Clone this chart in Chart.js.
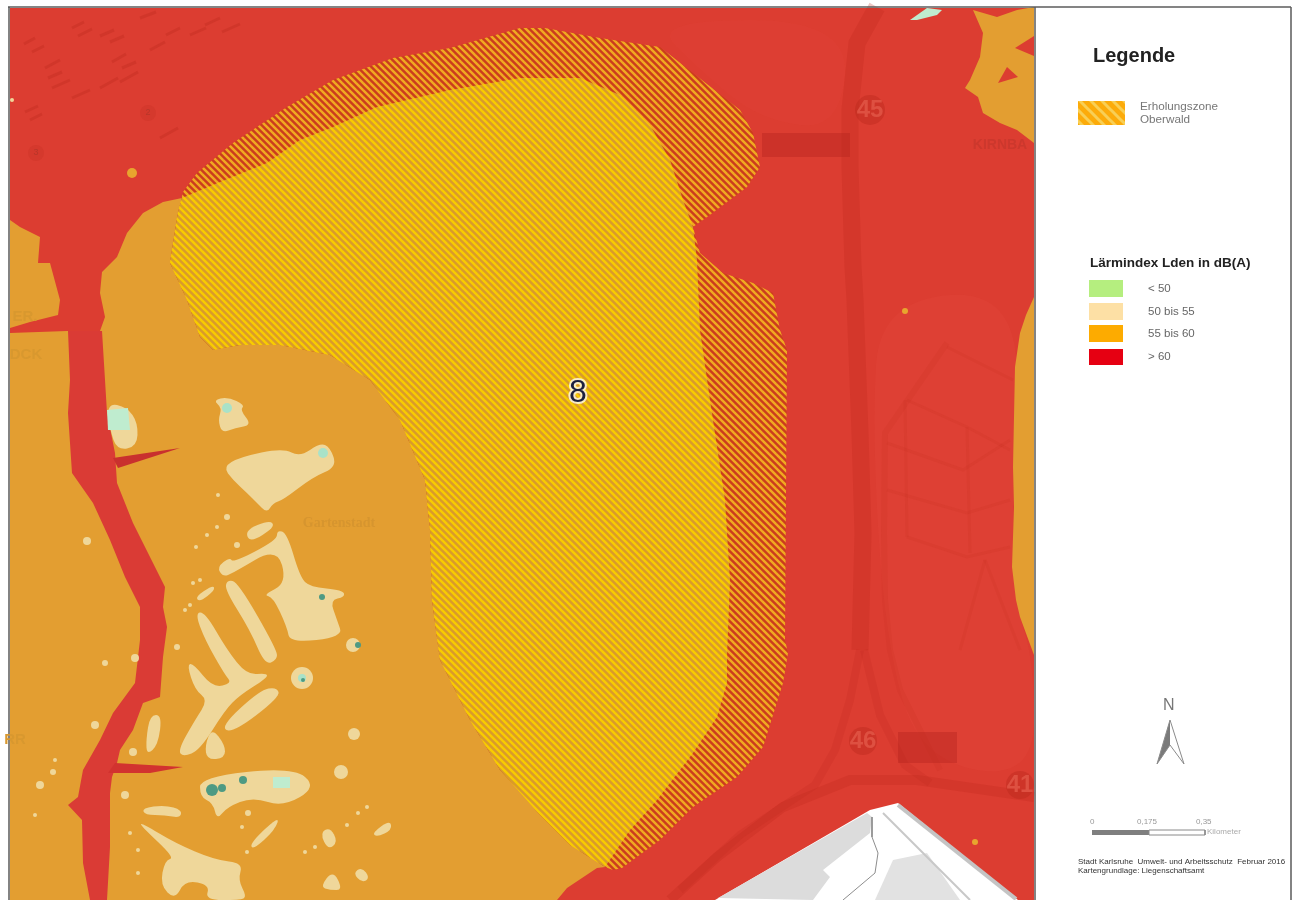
<!DOCTYPE html>
<html>
<head>
<meta charset="utf-8">
<title>Lärmindex Lden Erholungszone Oberwald</title>
<script src="https://cdn.jsdelivr.net/npm/chart.js@4"></script>
<style>
  html, body { margin: 0; padding: 0; background: #fff; overflow: hidden; }
  canvas { display: block; filter: blur(0.6px); }
</style>
</head>
<body>
<canvas id="map" width="1294" height="900"></canvas>
<script>
// outlines, as [x, y] in picture units
const mapArea = [[10,8],[1034,8],[1034,900],[10,900]];
const lighterEast = [[880,300],[1020,290],[1013,470],[1014,600],[1034,660],[1034,780],[920,760],[885,640],[872,430]];
const lighterNorth = [[650,20],[850,20],[840,130],[760,120],[700,70]];
const orangeNW = [[10,220],[20,227],[40,237],[38,263],[50,263],[60,300],[58,315],[30,322],[10,328]];
const orangeWest = [[10,333],[67,331],[100,331],[105,317],[100,293],[102,272],[117,257],[127,233],[143,213],[163,202],[182,198],[220,182],[267,163],[300,140],[333,127],[377,107],[450,90],[520,78],[580,78],[620,95],[650,125],[670,160],[683,200],[693,227],[697,260],[700,330],[710,400],[725,500],[730,580],[727,657],[727,683],[717,717],[693,753],[657,800],[630,830],[605,867],[597,868],[567,888],[557,900],[10,900]];
const orangeEast = [[1034,297],[1026,315],[1020,333],[1015,367],[1013,467],[1014,507],[1012,567],[1016,600],[1020,617],[1034,655]];
const orangeNE = [[1034,7],[1017,10],[997,17],[973,10],[983,33],[980,57],[970,80],[965,88],[978,97],[983,113],[1000,123],[1017,130],[1034,143]];
const redHoleNE1 = [[1007,67],[1018,77],[998,83]];
const redHoleNE2 = [[1034,36],[1015,48],[1034,56]];
const river = [[68,331],[70,380],[68,413],[72,473],[93,503],[110,540],[125,577],[140,607],[140,640],[135,683],[113,713],[100,740],[83,770],[78,797],[68,805],[82,820],[83,863],[90,900],[107,900],[110,847],[110,793],[112,777],[117,763],[120,750],[133,730],[143,703],[160,697],[163,657],[167,627],[163,607],[165,587],[150,557],[133,523],[117,483],[115,453],[107,413],[105,380],[102,331]];
const riverBranchA = [[113,458],[180,448],[118,468]];
const riverBranchB = [[115,763],[183,767],[150,773],[108,773]];
const hatchOutline = [[183,192],[197,173],[233,143],[287,107],[333,80],[393,58],[450,48],[520,28],[545,28],[600,38],[660,47],[693,73],[740,110],[753,133],[760,167],[747,187],[707,217],[693,227],[700,253],[723,273],[753,283],[773,293],[780,330],[787,350],[785,640],[788,653],[783,683],[763,747],[737,777],[693,807],[660,840],[622,868],[613,870],[605,867],[570,845],[540,815],[500,770],[470,720],[440,660],[432,600],[430,530],[425,480],[400,420],[370,380],[330,355],[280,345],[240,345],[213,350],[200,337],[187,300],[170,263],[177,217]];
const creamBlobs = [
  [[223,467],[240,457],[283,448],[300,457],[320,443],[330,447],[337,467],[313,477],[283,500],[273,503],[267,513],[257,503],[247,493],[233,480]],
  [[213,400],[228,397],[245,405],[240,410],[252,425],[235,428],[222,433],[218,420],[222,408]],
  [[107,403],[127,407],[138,423],[137,447],[117,450],[110,430]],
  [[217,567],[230,557],[233,563],[277,540],[277,530],[287,533],[300,577],[310,587],[343,590],[345,597],[330,600],[337,620],[343,637],[290,643],[287,627],[273,597],[263,595],[287,583],[277,547],[233,573],[223,577]],
  [[227,580],[238,582],[277,650],[277,660],[265,665],[250,630],[225,590]],
  [[195,613],[205,612],[227,650],[247,675],[267,673],[267,678],[240,695],[225,710],[200,750],[183,757],[178,750],[195,720],[208,700],[195,690],[187,665],[193,663],[213,688],[232,683],[225,675],[205,640]],
  [[220,727],[260,690],[277,687],[280,697],[233,733]],
  [[195,597],[213,585],[215,590],[200,602]],
  [[245,530],[270,520],[275,527],[250,543]],
  [[150,715],[162,715],[158,745],[147,755],[146,740]],
  [[205,745],[212,728],[225,745],[225,758],[207,760]],
  [[200,777],[293,767],[317,787],[283,807],[253,797],[227,807],[217,820],[213,803],[200,797]],
  [[250,843],[280,815],[275,830],[253,850]],
  [[320,833],[330,827],[338,842],[328,850]],
  [[372,833],[390,820],[392,830],[377,837]],
  [[320,887],[333,870],[343,890],[330,890]],
  [[353,873],[362,867],[370,878],[362,883]],
  [[142,823],[175,843],[215,860],[243,863],[238,880],[247,897],[240,900],[205,900],[210,885],[185,880],[175,900],[160,885],[165,860],[175,858],[140,825]],
  [[142,808],[165,805],[182,810],[180,818],[165,815],[145,815]]
];
const creamDots = [[354,734,6],[341,772,7],[302,678,11],[353,645,7],[87,541,4],[105,663,3],[135,658,4],[177,647,3],[95,725,4],[55,760,2],[53,772,3],[40,785,4],[125,795,4],[133,752,4],[248,813,3],[200,580,2],[193,583,2],[185,610,2],[190,605,2],[196,547,2],[207,535,2],[217,527,2],[227,517,3],[237,545,3],[218,495,2],[367,807,2],[358,813,2],[347,825,2],[305,852,2],[315,847,2],[247,852,2],[242,827,2],[138,850,2],[138,873,2],[200,873,2],[130,833,2],[35,815,2],[12,100,2]];
const paleGreenSpots = [[[107,410],[128,408],[130,430],[108,430]],[[273,777],[290,777],[290,788],[273,788]],[[910,20],[927,8],[942,10],[937,15],[917,20]]];
const paleGreenDots = [[227,408,5],[323,453,5],[302,678,4]];
const tealDots = [[322,597,3],[358,645,3],[243,780,4],[212,790,6],[222,788,4],[303,680,2]];
const orangeSpots = [[132,173,5],[905,311,3],[975,842,3]];
const urbanWhite = [[715,900],[870,810],[898,803],[1018,900]];
const urbanGreyA = [[718,898],[867,813],[872,817],[870,833],[823,870],[830,877],[813,900]];
const urbanGreyB = [[893,860],[927,853],[960,900],[875,900]];
const urbanEdge = [[898,805],[1016,899]];
const urbanRoadA = [[883,813],[970,900]];
const urbanRoadB = [[872,817],[872,837],[878,853],[875,873],[843,900]];
const motorway = [[877,7],[857,43],[850,110],[850,167],[853,267],[855,300],[860,433],[863,533],[860,650]];
const motorwayEast = [[1034,797],[917,780],[850,780],[783,807],[717,857],[670,900]];
const rampWest = [[860,650],[850,700],[835,750],[815,785],[740,835],[680,890]];
const rampMiddle = [[864,650],[880,715],[905,765],[930,783]];
const rampEast = [[947,343],[885,433],[884,533],[885,600],[890,650],[900,690],[940,770]];
const streets = [
  [[907,400],[967,427],[1010,450]],
  [[887,443],[963,470],[1010,440]],
  [[887,490],[967,513],[1010,500]],
  [[907,537],[967,557],[1010,547]],
  [[905,400],[907,537]],
  [[967,427],[970,553]],
  [[947,347],[1013,380]],
  [[985,560],[960,650]],
  [[985,560],[1020,650]]
];
const nwBlocks = [[[24,44],[35,38]],[[32,52],[44,46]],[[72,28],[84,22]],[[78,36],[92,29]],[[100,36],[114,30]],[[110,42],[124,36]],[[45,68],[60,60]],[[48,78],[62,72]],[[112,62],[126,54]],[[122,68],[136,62]],[[140,18],[156,12]],[[190,35],[206,28]],[[205,25],[220,18]],[[222,32],[240,24]],[[150,50],[165,42]],[[52,88],[70,80]],[[25,112],[38,106]],[[30,120],[42,114]],[[72,98],[90,90]],[[166,35],[180,28]],[[160,138],[178,128]],[[100,88],[118,78]],[[120,82],[138,72]]];
const signBoxes = [[[762,133],[850,133],[850,157],[762,157]],[[898,732],[957,732],[957,763],[898,763]]];
const exitCircles = [[870,110,15],[863,741,14],[1020,785,14]];
const smallCircles = [[36,153,8],[148,113,8]];
// legend
const legendHatchBox = [[1078,101],[1125,101],[1125,125],[1078,125]];
const noiseClasses = ["< 50", "50 bis 55", "55 bis 60", "> 60"];
const noiseColors = ["#b5ee7f", "#fde0a5", "#fdab00", "#e60012"];
const noiseBoxes = [
  [[1089,280],[1123,280],[1123,297],[1089,297]],
  [[1089,303],[1123,303],[1123,320],[1089,320]],
  [[1089,325],[1123,325],[1123,342],[1089,342]],
  [[1089,349],[1123,349],[1123,365],[1089,365]]
];
const noiseLabelX = [1148, 1148, 1148, 1148];
const noiseLabelY = [289, 312, 334, 357];
const arrowLeft = [[1170,720],[1157,764],[1170,745]];
const arrowOutline = [[1170,720],[1184,764],[1170,745]];
const scaleFilled = [[1092,830],[1149,830],[1149,835],[1092,835]];
const scaleEmpty = [[1149,830],[1205,830],[1205,835],[1149,835]];
const frameLines = [
  [[8,7],[1291,7]],
  [[9,7],[9,900]],
  [[1035,7],[1035,900]],
  [[1291,7],[1291,900]]
];

function stripes(size, width, back, front) {
  const tile = document.createElement("canvas");
  tile.width = size;
  tile.height = size;
  const c = tile.getContext("2d");
  c.fillStyle = back;
  c.fillRect(0, 0, size, size);
  c.strokeStyle = front;
  c.lineWidth = width;
  // run past the tile corners so the stripes join up without notches
  [-size, 0, size].forEach(function (d) {
    c.beginPath();
    c.moveTo(d - 3, -3);
    c.lineTo(d + size + 3, size + 3);
    c.stroke();
  });
  return c.createPattern(tile, "repeat");
}

const toPoints = (list) => list.map((p) => ({ x: p[0], y: p[1] }));
const toDots = (list) => list.map((p) => ({ x: p[0], y: p[1], r: p[2] }));

const layers = [];
function area(list, color, round) {
  layers.push({ type: "scatter", polygon: true, round: !!round, data: toPoints(list), backgroundColor: color, pointRadius: 0 });
}
function line(list, color, width) {
  layers.push({ type: "scatter", showLine: true, data: toPoints(list), borderColor: color, borderWidth: width, pointRadius: 0, fill: false });
}
function dots(list, color) {
  layers.push({ type: "bubble", data: toDots(list), backgroundColor: color, borderWidth: 0 });
}

const baseRed = "#dc3d31";
const orange = "#e39e31";
const cream = "#efd79a";
const roadRed = "rgba(190,40,28,0.26)";
const streetRed = "rgba(190,40,28,0.12)";

area(mapArea, baseRed);
area(lighterEast, "rgba(232,80,64,0.18)", true);
area(lighterNorth, "rgba(232,80,64,0.1)", true);
nwBlocks.forEach((b) => line(b, "rgba(185,40,28,0.3)", 3));
line(motorway, roadRed, 17);
line(motorwayEast, roadRed, 10);
line(rampWest, "rgba(190,40,28,0.2)", 8);
line(rampMiddle, "rgba(190,40,28,0.2)", 8);
line(rampEast, streetRed, 6);
streets.forEach((s) => line(s, streetRed, 3));
signBoxes.forEach((b) => area(b, "rgba(180,35,28,0.38)"));
dots(exitCircles, "rgba(185,40,28,0.4)");
dots(smallCircles, "rgba(185,40,28,0.18)");
area(orangeNW, orange);
area(orangeWest, orange);
area(orangeEast, orange);
area(orangeNE, orange);
area(redHoleNE1, baseRed);
area(redHoleNE2, baseRed);
area(river, "#da3b35");
area(riverBranchA, "#c9302e");
area(riverBranchB, "#d2322f");
creamBlobs.forEach((b) => area(b, cream, true));
dots(creamDots, cream);
paleGreenSpots.forEach((b) => area(b, "#bfeccf"));
dots(paleGreenDots, "#a9e2c8");
dots(tealDots, "#4e9a83");
dots(orangeSpots, "#e8a52e");
area(urbanWhite, "#ffffff");
area(urbanGreyA, "#dcdcdc");
area(urbanGreyB, "#e2e2e2");
line(urbanEdge, "#c4c4c4", 4);
line(urbanRoadA, "#c8c8c8", 2);
line(urbanRoadB, "#8d8d8d", 1);
area(hatchOutline, "hatch");
area(legendHatchBox, stripes(11, 3, "#fcab0a", "#f8cf55"));
noiseBoxes.forEach((b, i) => area(b, noiseColors[i]));
area(arrowLeft, "#7a7a7a");
line(arrowOutline, "#8a8a8a", 1);
line(arrowLeft, "#8a8a8a", 1);
area(scaleFilled, "#7f7f7f");
line(scaleEmpty.concat([scaleEmpty[0]]), "#8a8a8a", 1);
frameLines.forEach((f) => line(f, "#5b5b5b", 1.5));
// later layers go on top
layers.forEach((l, i) => { l.order = layers.length - i; });

// fills a dataset's points as a closed shape; the hatched zone is cut in two at the orange edge
function tracePoints(ctx, points, round) {
  ctx.beginPath();
  if (round) {
    const n = points.length;
    const mid = (a, b) => ({ x: (a.x + b.x) / 2, y: (a.y + b.y) / 2 });
    const start = mid(points[n - 1], points[0]);
    ctx.moveTo(start.x, start.y);
    points.forEach(function (p, i) {
      const m = mid(p, points[(i + 1) % n]);
      ctx.quadraticCurveTo(p.x, p.y, m.x, m.y);
    });
  } else {
    points.forEach((p, i) => (i ? ctx.lineTo(p.x, p.y) : ctx.moveTo(p.x, p.y)));
  }
  ctx.closePath();
}
const hatchOverOrange = stripes(7, 2.5, "#d99a2c", "#f8cc00");
const hatchOverRed = stripes(7, 2.5, "#cb3c1e", "#f0aa20");
const polygonPlugin = {
  id: "polygons",
  beforeDatasetDraw(chart, args) {
    const set = chart.data.datasets[args.index];
    if (!set.polygon) return;
    const ctx = chart.ctx;
    const points = args.meta.data;
    ctx.save();
    tracePoints(ctx, points, set.round);
    if (set.backgroundColor === "hatch") {
      ctx.clip();
      ctx.fillStyle = hatchOverRed;
      ctx.fillRect(0, 0, chart.width, chart.height);
      const west = chart.getDatasetMeta(layers.findIndex((l) => l.data.length === orangeWest.length && l.polygon)).data;
      tracePoints(ctx, west);
      ctx.fillStyle = hatchOverOrange;
      ctx.fill();
    } else {
      ctx.fillStyle = set.backgroundColor;
      ctx.fill();
    }
    ctx.restore();
    return false;
  }
};

const labelTexts = ["8", "45", "46", "41", "Gartenstadt", "KIRNBA", "ER.", "DCK", "RR", "3", "2"];
const labelX = [578, 870, 863, 1020, 339, 1000, 25, 26, 15, 36, 148];
const labelY = [393, 110, 741, 785, 523, 145, 317, 355, 740, 153, 113];
const labelFonts = ["32px 'Liberation Sans'", "bold 24px 'Liberation Sans'", "bold 24px 'Liberation Sans'", "bold 24px 'Liberation Sans'", "bold 14px 'Liberation Serif'", "bold 14px 'Liberation Sans'", "bold 15px 'Liberation Sans'", "bold 15px 'Liberation Sans'", "bold 15px 'Liberation Sans'", "9px 'Liberation Sans'", "9px 'Liberation Sans'"];
const labelColors = ["#1b1f3f", "#de5041", "#de5041", "#de5041", "#d6952f", "#cc382d", "#d8982f", "#d8982f", "#d8982f", "#b8362a", "#b8362a"];

const legendTexts = ["Legende", "Erholungszone", "Oberwald", "Lärmindex Lden in dB(A)"];
const legendX = [1093, 1140, 1140, 1090];
const legendY = [56, 107, 120, 263];
const legendFonts = ["bold 20px 'Liberation Sans'", "11.7px 'Liberation Sans'", "11.7px 'Liberation Sans'", "bold 13.5px 'Liberation Sans'"];
const legendColors = ["#222", "#777", "#777", "#222"];

const noteTexts = ["N", "0", "0,175", "0,35", "Kilometer", "Stadt Karlsruhe  Umwelt- und Arbeitsschutz  Februar 2016", "Kartengrundlage: Liegenschaftsamt"];
const noteX = [1163, 1090, 1137, 1196, 1207, 1078, 1078];
const noteY = [706, 822, 822, 822, 832, 862, 871];
const noteFonts = ["16px 'Liberation Sans'", "8px 'Liberation Sans'", "8px 'Liberation Sans'", "8px 'Liberation Sans'", "8px 'Liberation Sans'", "8px 'Liberation Sans'", "8px 'Liberation Sans'"];
const noteColors = ["#777", "#999", "#999", "#999", "#aaa", "#333", "#333"];

const labelPlugin = {
  id: "labels",
  afterDatasetsDraw(chart) {
    const ctx = chart.ctx;
    const sx = chart.scales.x;
    const sy = chart.scales.y;
    ctx.save();
    ctx.textBaseline = "middle";
    ctx.textAlign = "center";
    labelTexts.forEach(function (t, i) {
      ctx.font = labelFonts[i];
      if (t === "8") {
        ctx.lineWidth = 4;
        ctx.strokeStyle = "rgba(255,255,255,0.75)";
        ctx.strokeText(t, sx.getPixelForValue(labelX[i]), sy.getPixelForValue(labelY[i]));
      }
      ctx.fillStyle = labelColors[i];
      ctx.fillText(t, sx.getPixelForValue(labelX[i]), sy.getPixelForValue(labelY[i]));
    });
    ctx.textAlign = "left";
    function writeAll(texts, xs, ys, fonts, colors) {
      texts.forEach(function (t, i) {
        ctx.font = fonts[i];
        ctx.fillStyle = colors[i];
        ctx.fillText(t, sx.getPixelForValue(xs[i]), sy.getPixelForValue(ys[i]));
      });
    }
    writeAll(legendTexts, legendX, legendY, legendFonts, legendColors);
    writeAll(noteTexts, noteX, noteY, noteFonts, noteColors);
    noiseClasses.forEach(function (t, i) {
      ctx.font = "11.5px 'Liberation Sans'";
      ctx.fillStyle = "#666";
      ctx.fillText(t, sx.getPixelForValue(noiseLabelX[i]), sy.getPixelForValue(noiseLabelY[i]));
    });
    ctx.restore();
  }
};

const noiseMap = new Chart(document.getElementById("map"), {
  type: "scatter",
  data: { datasets: layers },
  options: {
    responsive: false,
    animation: false,
    events: [],
    layout: { padding: 0, autoPadding: false },
    scales: {
      x: { type: "linear", min: 0, max: 1294, display: false },
      y: { type: "linear", min: 0, max: 900, reverse: true, display: false }
    },
    plugins: { legend: { display: false }, tooltip: { enabled: false } }
  },
  plugins: [polygonPlugin, labelPlugin]
});
</script>
</body>
</html>
